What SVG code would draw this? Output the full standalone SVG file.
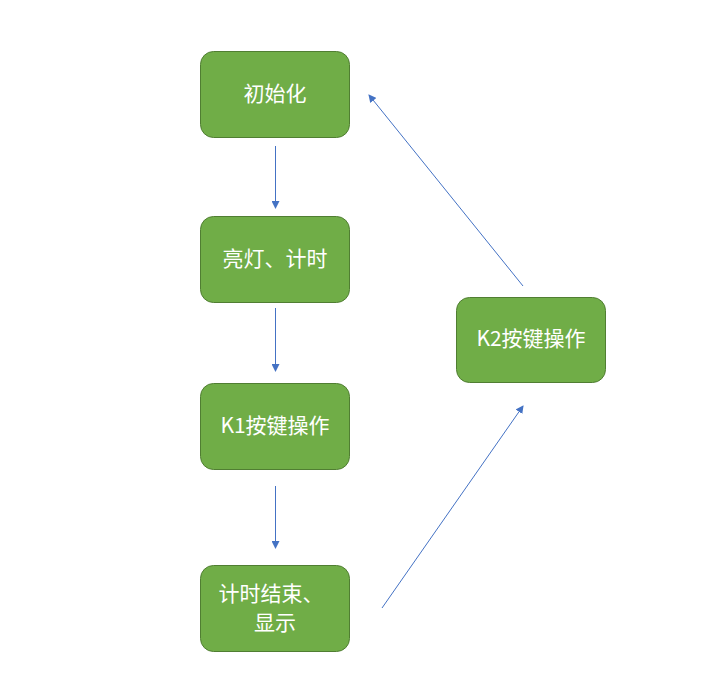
<svg xmlns="http://www.w3.org/2000/svg" width="719" height="694" viewBox="0 0 719 694">
<style>
.n rect{fill:#70AD47;stroke:#507E32;stroke-width:1}
.n text{fill:#fff;font-family:"Noto Sans CJK SC","Liberation Sans",sans-serif;font-size:21px;text-anchor:middle;dominant-baseline:central}
.c line{stroke:#4472C4;stroke-width:1;marker-end:url(#a)}
</style>
<defs>
<marker id="a" markerWidth="8" markerHeight="8" refX="7" refY="4" orient="auto" markerUnits="userSpaceOnUse">
<path d="M0,0 L8,4 L0,8 z" fill="#4472C4"/>
</marker>
</defs>
<rect width="719" height="694" fill="#fff"/>
<g id="n1" class="n"><rect x="200.5" y="51.5" width="149" height="86" rx="13"/><text x="275" y="92">初始化</text></g>
<g id="n2" class="n"><rect x="200.5" y="216.5" width="149" height="86" rx="13"/><text x="275" y="257">亮灯、计时</text></g>
<g id="n3" class="n"><rect x="200.5" y="383.5" width="149" height="86" rx="13"/><text x="275" y="424">K1按键操作</text></g>
<g id="n4" class="n"><rect x="200.5" y="565.5" width="149" height="86" rx="13"/><text x="271" y="592" font-size="20">计时结束、</text><text x="275" y="621" font-size="20">显示</text></g>
<g id="n5" class="n"><rect x="456.5" y="297.5" width="149" height="85" rx="13"/><text x="531" y="337">K2按键操作</text></g>
<g id="connectors" class="c">
<line x1="275.5" y1="146" x2="275.5" y2="208"/>
<line x1="275.5" y1="308" x2="275.5" y2="371"/>
<line x1="275.5" y1="486" x2="275.5" y2="548"/>
<line x1="382" y1="608" x2="523" y2="406"/>
<line x1="523" y1="286" x2="369" y2="95"/>
</g>
</svg>
